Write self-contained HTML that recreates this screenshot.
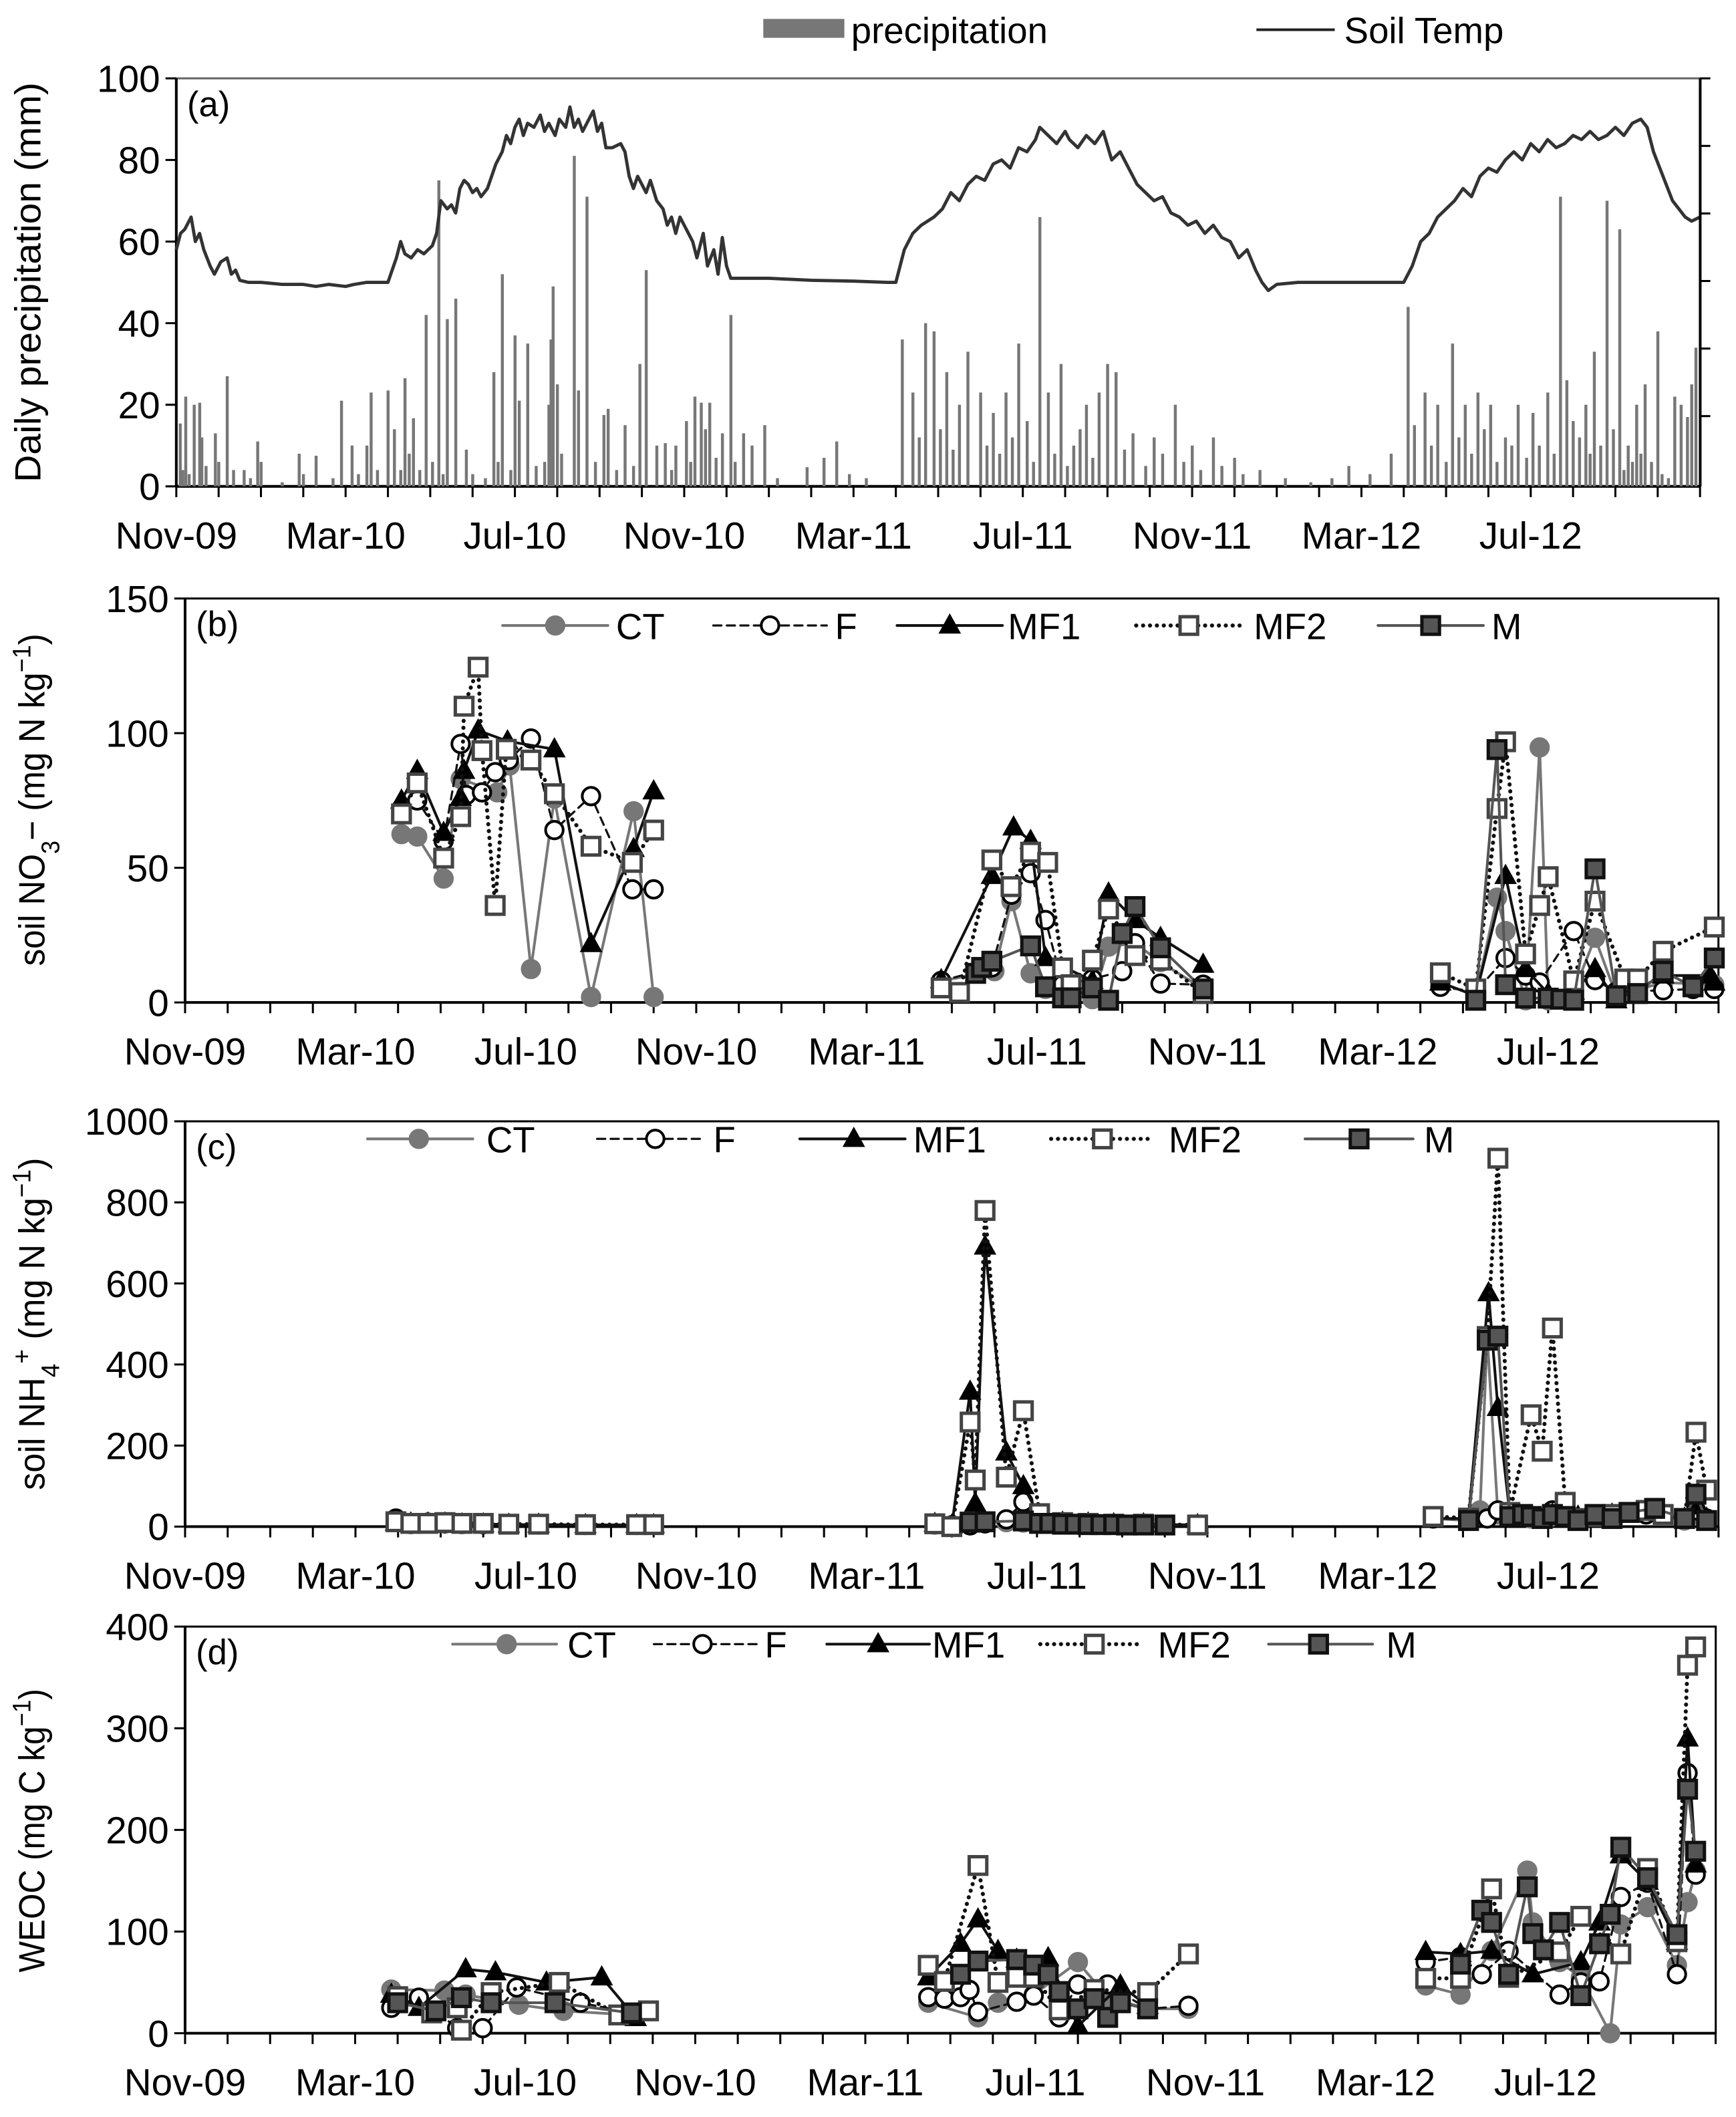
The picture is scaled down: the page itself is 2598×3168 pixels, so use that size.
<!DOCTYPE html>
<html><head><meta charset="utf-8"><style>
html,body{margin:0;padding:0;background:#fff;}
svg{display:block;font-family:"Liberation Sans",Arial,sans-serif;}
</style></head><body>
<svg id="chart" xmlns="http://www.w3.org/2000/svg" width="2598" height="3168" viewBox="0 0 1285 1567" preserveAspectRatio="none">
<g id="legend-top">
<rect x="565" y="14" width="60" height="14" fill="#777"/>
<text x="630" y="32" font-size="27">precipitation</text>
<line x1="930" y1="22" x2="988" y2="22" stroke="#222" stroke-width="2"/>
<text x="995" y="32" font-size="27">Soil Temp</text>
</g>
</svg>
<script>
// ---------- Panel (a) data ----------
const precipMonth=[0.09,0.15,0.22,0.3,0.42,0.55,0.6,0.7,0.92,1.0,1.2,1.35,1.6,1.75,1.92,2.0,2.5,2.9,3.0,3.3,3.7,3.9,4.15,4.3,4.5,4.6,4.75,5.0,5.15,5.3,5.4,5.5,5.6,5.75,5.9,6.05,6.2,6.3,6.4,6.6,6.85,7.0,7.3,7.5,7.6,7.7,7.9,8.0,8.1,8.3,8.5,8.7,8.8,8.85,8.9,9.0,9.1,9.4,9.5,9.7,9.9,10.1,10.2,10.4,10.6,10.8,10.95,11.1,11.35,11.55,11.7,11.8,12.05,12.15,12.25,12.4,12.5,12.6,12.75,12.9,13.1,13.2,13.4,13.6,13.9,14.2,14.9,15.3,15.6,15.9,16.3,
17.15,17.4,17.55,17.7,17.9,18.05,18.2,18.35,18.5,18.7,19.0,19.15,19.3,19.45,19.6,19.75,19.9,20.1,20.25,20.4,20.6,20.75,20.9,21.05,21.2,21.35,21.5,21.65,21.8,22.0,22.2,22.4,22.6,22.9,23.1,23.3,23.6,23.8,24.0,24.2,24.5,24.7,25.0,25.2,25.6,26.2,26.8,27.3,27.7,28.2,28.7,
29.1,29.25,29.5,29.65,29.8,30.0,30.15,30.3,30.45,30.6,30.75,30.9,31.05,31.2,31.4,31.55,31.7,31.9,32.05,32.2,32.4,32.55,32.7,32.85,33.0,33.15,33.3,33.4,33.5,33.65,33.8,33.95,34.1,34.2,34.3,34.4,34.5,34.6,34.7,34.85,35.0,35.1,35.25,35.4,35.55,35.7,35.8,35.9];
const precipMM=[15.4,4,22,3,20,20.5,12,5,13,6,27,4,4,2,11,6,1,8,3,7.5,2,21,10,3,10,23,4,23.5,14,4,26.5,8,16.7,4,42,6,75,3,41,46,9,3,2,28,6,52,4,37,21,35,5,6,20,36,49,25,8,81,23.5,71,6,17.5,19,4,15,5,30,53,10,10.6,4,10,16,6,22,20.5,14,20.5,7,13,42,6,13,10,15,2,4.7,7,11,3,2,
36,23,12,40,38,14,28,9,20,33,23,10,18,8,23,12,35,16,6,66,23,8,30,5,10,14,20,7,23,30,28,9,13,5,12,8,20,6,10,4,12,5,7,3,4,2,1,2,5,3,8,
44,15,23,10,20,6,35,12,20,8,23,14,20,6,12,10,20,7,18,10,23,8,71,26,16,12,20,8,33,10,70,14,63,4,10,6,20,8,25,6,38,3,2,22,20,17,25,34];
const tempMonth=[0,0.1,0.2,0.35,0.45,0.55,0.65,0.8,0.9,1.05,1.2,1.3,1.4,1.5,1.7,2,2.5,3,3.3,3.6,4,4.2,4.5,4.9,5.0,5.1,5.2,5.3,5.4,5.55,5.7,5.85,5.95,6.05,6.15,6.25,6.4,6.5,6.6,6.7,6.8,6.9,7.0,7.1,7.2,7.35,7.45,7.55,7.7,7.8,7.9,8.0,8.1,8.2,8.3,8.45,8.6,8.7,8.8,8.95,9.05,9.2,9.3,9.4,9.5,9.6,9.7,9.85,9.95,10.05,10.15,10.3,10.5,10.6,10.7,10.8,10.9,11.0,11.1,11.2,11.35,11.5,11.6,11.7,11.8,11.9,12.0,12.1,12.2,12.3,12.45,12.55,12.7,12.8,12.9,13.0,13.1,13.2,13.4,14,15,16,16.8,
17.0,17.2,17.4,17.6,17.9,18.1,18.3,18.5,18.7,18.9,19.1,19.3,19.5,19.7,19.9,20.1,20.3,20.4,20.6,20.8,21.0,21.1,21.3,21.5,21.7,21.9,22.1,22.3,22.5,22.7,22.9,23.1,23.3,23.5,23.7,23.9,24.1,24.3,24.5,24.7,24.9,25.1,25.3,25.5,25.65,25.8,26.0,26.5,27.5,28.5,29.0,29.2,29.4,29.6,29.8,30.0,30.2,30.4,30.6,30.8,31.0,31.2,31.4,31.6,31.8,32.0,32.2,32.4,32.6,32.8,33.0,33.2,33.4,33.6,33.8,34.0,34.2,34.4,34.6,34.75,34.9,35.05,35.2,35.35,35.5,35.65,35.8,36];
const tempVal=[58,62,63,66,60,62,58,54,52,55,56,52,53,50.5,50,50,49.5,49.5,49,49.5,49,49.5,50,50,50,53,56,60,57,56,58,57,58,59,62,70,68,69,67,73,75,74,72,73,71,73,76,79,82,86,84,88,90,86,89,88,91,87,89,86,90,88,93,88,90,87,89,92,87,89,83,83,84,82,76,73,76,74,72,75,70,68,64,66,62,66,64,62,60,56,62,54,58,52,61,54,51,51,51,51,50.5,50.3,50,
50,58,62,64,66,68,72,70,74,76,75,79,80,78,83,82,85,88,86,84,87,85,83,86,84,87,80,82,78,74,72,70,71,67,66,64,65,62,64,61,60,56,58,53,50,48,49.5,50,50,50,50,54,60,62,66,68,70,73,71,76,78,77,80,82,80,84,82,85,83,84,86,85,87,85,86,88,86,89,90,88,82,78,74,70,68,66,65,66];

// ---------- Panel (b) NO3 data [month, value] ----------
const no3CT=[[5.08,62.5],[5.45,61.6],[6.07,46],[6.47,83],[7.33,78],[7.62,88],[8.12,12.4],[8.67,75.7],[9.53,2],[10.53,71],[11.0,2],
[17.75,8],[19.0,11.6],[19.4,37.6],[19.85,10.8],[20.2,5],[21.3,1.2],[21.68,20.7],[22.3,22],[22.9,15],[23.9,5],
[29.47,7.4],[30.3,2.5],[30.8,38.9],[31.0,26.5],[31.47,0.8],[31.8,94.7],[32.0,0.8],[32.6,4],[33.1,24],[33.6,2.5],[34.7,7.4],[35.9,6.6]];
const no3F=[[5.08,72],[5.45,75],[6.07,60],[6.47,96],[6.6,77],[6.97,78],[7.28,85.5],[7.6,90],[8.12,98],[8.67,64],[9.53,76.6],[10.5,42],[11.0,42],
[17.75,8],[18.94,13],[19.4,40],[19.85,48],[20.2,30.6],[20.6,6.6],[21.3,8.7],[22.0,11.6],[22.3,22],[22.9,7],[23.9,6.6],
[29.47,5.8],[30.3,4],[31.0,16.5],[31.47,10],[31.8,7.4],[32.6,26.5],[33.1,8.3],[33.6,4],[34.7,4.5],[35.4,5],[35.9,5]];
const no3MF1=[[5.08,75],[5.45,86],[6.07,63],[6.47,76],[6.55,86],[6.88,101],[7.57,97],[8.67,94],[9.53,21.7],[10.53,57],[11.0,78.4],
[17.75,8.3],[18.94,47],[19.45,65],[19.85,60],[20.2,16.5],[21.3,8],[21.68,40.5],[22.3,30.6],[22.9,24],[23.9,14],
[29.47,7.4],[30.3,2.5],[31.0,47],[31.47,12.4],[32.0,3.3],[32.6,4],[33.1,12.4],[33.6,0.8],[34.7,10],[35.8,10],[35.9,7.4]];
const no3MF2=[[5.08,70],[5.45,81.5],[6.07,53.6],[6.47,69],[6.55,110],[6.88,124.5],[6.97,93.5],[7.28,36],[7.54,94],[8.12,90],[8.67,77.5],[9.53,58],[10.5,52],[11.0,64],
[17.75,5.4],[18.18,3.7],[18.94,52.9],[19.39,43],[19.85,55.8],[20.25,52],[20.6,12.8],[20.8,6.6],[21.3,15.7],[21.68,34.7],[22.3,17.4],[22.9,15.7],[23.9,3.3],
[29.47,11],[30.3,5],[30.8,72],[31.0,96.8],[31.47,18],[31.8,36],[32.0,46.7],[32.6,8],[33.1,37.6],[33.8,8.7],[34.1,8.7],[34.7,19],[35.9,28]];
const no3M=[[18.56,10.8],[18.7,13],[18.94,15.3],[19.85,21],[20.2,5.8],[20.6,1.7],[20.8,1.7],[21.3,5.4],[21.68,0.8],[22.0,25.6],[22.3,35.6],[22.9,20.3],[23.9,5],
[30.3,0.8],[30.8,93.9],[31.0,6.6],[31.47,1.6],[32.0,1.6],[32.3,1.2],[32.6,0.8],[33.1,49.6],[33.6,2.5],[34.1,3.3],[34.7,11.6],[35.4,5.8],[35.9,16.5]];

// ---------- Panel (c) NH4 data ----------
const nh4CT=[[4.95,12],[5.3,6],[5.7,8],[6.1,8],[6.5,6],[7.0,6],[7.6,5],[8.3,5],[9.4,4],[10.6,4],[11.0,4],
[17.6,5],[18.0,3],[18.43,8],[18.78,10],[19.28,11],[19.68,10],[20.06,8],[20.6,6],[21.2,5],[21.8,5],[22.5,5],[23.77,4],
[29.3,20],[30.13,15],[30.4,40],[30.57,470],[30.82,30],[31.1,25],[31.6,20],[32.1,25],[32.7,20],[33.5,30],[34.3,35],[35.2,15],[35.47,30],[35.72,15]];
const nh4F=[[4.95,20],[5.3,8],[5.7,10],[6.1,8],[6.5,8],[7.0,6],[7.6,6],[8.3,5],[9.4,5],[10.6,5],[11.0,5],
[17.6,6],[18.0,3],[18.43,3],[18.78,8],[19.28,18],[19.68,61],[20.06,18],[20.6,8],[21.2,6],[21.8,5],[22.5,5],[23.77,4],
[29.3,20],[30.13,18],[30.57,20],[30.82,40],[31.1,30],[31.6,25],[32.1,40],[32.4,61],[32.7,20],[33.5,25],[34.3,30],[35.2,20],[35.47,40],[35.72,20]];
const nh4MF1=[[4.95,10],[5.3,8],[5.7,8],[6.1,8],[6.5,6],[7.0,6],[7.6,5],[8.3,5],[9.4,4],[10.6,4],[11.0,4],
[17.6,7],[18.0,3],[18.43,333],[18.55,57],[18.78,691],[19.28,183],[19.68,100],[20.06,25],[20.6,10],[21.2,8],[21.8,6],[22.5,6],[23.77,4],
[29.3,20],[30.13,20],[30.6,576],[30.82,293],[31.1,30],[31.6,25],[32.1,30],[32.7,25],[33.5,30],[34.3,40],[35.2,20],[35.47,50],[35.72,20]];
const nh4MF2=[[4.95,12],[5.3,8],[5.7,8],[6.1,10],[6.5,8],[7.0,8],[7.6,6],[8.3,6],[9.4,5],[10.6,5],[11.0,5],
[17.6,7],[18.0,0],[18.43,258],[18.55,115],[18.78,780],[19.28,122],[19.68,286],[20.06,32],[20.6,10],[21.2,8],[21.8,6],[22.5,6],[23.77,4],
[29.3,25],[30.13,21],[30.57,469],[30.82,909],[31.1,35],[31.6,276],[31.86,186],[32.1,490],[32.4,60],[32.7,20],[33.1,25],[33.5,30],[33.9,35],[34.3,40],[34.7,30],[35.2,20],[35.47,233],[35.72,90]];
const nh4M=[[18.43,11],[18.78,12],[19.68,14],[20.06,8],[20.3,8],[20.6,6],[20.9,6],[21.2,5],[21.5,5],[21.8,5],[22.1,4],[22.5,4],[23.0,4],
[30.13,15],[30.57,460],[30.82,470],[31.1,25],[31.4,30],[31.6,25],[31.86,20],[32.1,30],[32.4,25],[32.7,15],[33.1,30],[33.5,20],[33.9,35],[34.5,45],[35.2,20],[35.47,80],[35.72,15]];

// ---------- Panel (d) WEOC data ----------
const weocCT=[[4.85,43],[6.1,42],[6.6,38],[7.85,28],[8.9,22],[10.5,18],
[17.48,30],[18.65,15.6],[19.12,30],[19.96,38],[21.0,70],[21.7,35.5],[22.64,24],[23.6,24],
[29.18,47],[30.0,38],[30.73,81],[31.57,160],[31.7,109],[32.33,70],[32.83,55],[33.52,0],[33.77,107],[34.4,124],[35.09,67],[35.34,129],[35.53,160]];
const weocF=[[4.85,25],[5.5,35],[6.4,5],[7.0,5],[7.8,45],[9.3,30],[10.5,20],
[17.48,35.5],[17.86,34],[18.24,35.5],[18.45,42.6],[18.65,21],[19.56,31],[19.96,37],[20.56,15.6],[21.0,48],[21.7,48],[22.64,24],[23.6,27],
[29.18,70],[30.0,75],[30.5,58],[31.13,81],[32.33,38],[32.83,50],[33.27,51],[33.77,134],[34.4,148],[35.09,58],[35.34,256],[35.53,156]];
const weocMF1=[[4.85,38],[5.5,25],[6.6,63],[7.3,60],[8.5,50],[9.8,55],[10.6,15],
[17.48,55],[18.24,88],[18.65,112],[19.12,81],[19.56,72.5],[20.3,74],[21.0,7],[22.0,47],[22.64,27],
[29.18,80],[30.0,78],[30.73,81],[31.7,58],[32.83,70],[33.27,109],[33.77,175],[34.4,149],[35.09,90],[35.34,290],[35.53,166]];
const weocMF2=[[5.0,36],[5.8,20],[6.4,25],[6.5,3],[7.2,40],[8.8,50],[10.2,18],[10.9,22],
[17.48,66.8],[17.86,51],[18.65,165],[19.12,50],[19.56,55],[19.96,55],[20.56,23],[21.38,43],[22.64,40],[23.6,78],
[29.18,54],[30.0,54],[30.73,142],[31.13,55],[32.33,80],[32.83,115],[33.77,78],[34.4,162],[35.09,90],[35.34,362],[35.53,380]];
const weocM=[[5.0,30],[5.9,22],[6.5,35],[7.2,30],[8.7,30],[10.5,20],
[18.24,58],[18.65,71],[19.56,72.5],[19.96,67],[20.3,58],[20.56,41],[21.0,24],[21.38,34],[21.7,15.6],[22.0,30],[22.64,24],
[30.0,68],[30.5,121],[30.73,109],[31.13,58],[31.57,144],[31.7,98],[31.95,82],[32.33,109],[32.83,37],[33.27,88],[33.52,117],[33.77,183],[34.4,153],[35.09,97],[35.34,240],[35.53,179]];

const xLabels=["Nov-09","Mar-10","Jul-10","Nov-10","Mar-11","Jul-11","Nov-11","Mar-12","Jul-12"];
const yTicksA=[0,20,40,60,80,100];
const yTicksB=[0,50,100,150];
const yTicksC=[0,200,400,600,800,1000];
const yTicksD=[0,100,200,300,400];

const NS="http://www.w3.org/2000/svg";
const svg=document.getElementById('chart');
function mk(tag,attrs,parent){const e=document.createElementNS(NS,tag);for(const k in attrs)e.setAttribute(k,attrs[k]);(parent||svg).appendChild(e);return e;}

function makeAxes(p){
  const g=mk('g',{});
  
  
  const fr=mk('rect',{x:p.x0,y:p.yTop,width:p.x1-p.x0,height:p.yBot-p.yTop,fill:'none',stroke:p.frame,'stroke-width':1.5},g);
  
  
  const xa=mk('line',{x1:p.x0,y1:p.yBot,x2:p.x1,y2:p.yBot,stroke:'#000','stroke-width':2},g);
  
  
  const ya=mk('line',{x1:p.x0,y1:p.yTop,x2:p.x0,y2:p.yBot,stroke:'#000','stroke-width':2},g);
  
  
  for(let m=0;m<=36;m++){
    const x=p.x0+m*p.mw;
    mk('line',{x1:x,y1:p.yBot,x2:x,y2:p.yBot+8,stroke:'#000','stroke-width':1.5},g);
  }
  xLabels.forEach((l,i)=>{
    const t=mk('text',{x:p.x0+i*4*p.mw,y:p.yBot+46,'font-size':28,'text-anchor':'middle'},g);
    t.textContent=l;
    
    
  });
  p.yt.forEach(v=>{
    const y=p.yBot-(v/p.ymax)*(p.yBot-p.yTop);
    mk('line',{x1:p.x0-8,y1:y,x2:p.x0,y2:y,stroke:'#000','stroke-width':1.5},g);
    const t=mk('text',{x:p.x0-12,y:y+10,'font-size':28,'text-anchor':'end'},g);
    t.textContent=v;
    
    
  });
  const pl=mk('text',{x:p.x0+8,y:p.yTop+28,'font-size':26},g);
  pl.textContent=p.letter;
  
  
  return g;
}
function ytitle(x,yc,len,html,name){
  const t=mk('text',{x:0,y:0,'font-size':27,'text-anchor':'middle',transform:`translate(${x},${yc}) rotate(-90)`,textLength:len,lengthAdjust:'spacingAndGlyphs'});
  t.innerHTML=html;
  
  
}

// Panel a
const pa={name:'panel-a',x0:130.5,x1:1258.5,mw:31.33,yTop:58,yBot:360,ymax:100,yt:yTicksA,letter:'(a)',frame:'#666'};
makeAxes(pa);
const ax=m=>pa.x0+m*pa.mw, ay=v=>pa.yBot-v/100*(pa.yBot-pa.yTop);
const bars=mk('g',{});


precipMonth.forEach((m,i)=>{
  const r=mk('rect',{x:ax(m)-1,y:ay(precipMM[i]),width:2.2,height:pa.yBot-ay(precipMM[i]),fill:'#777'},bars);
  
  
});
const tl=mk('polyline',{points:tempMonth.map((m,i)=>ax(m)+','+ay(tempVal[i])).join(' '),fill:'none',stroke:'#333','stroke-width':2.4,'stroke-linejoin':'round'});


const ra=mk('line',{x1:1258.5,y1:58,x2:1258.5,y2:360,stroke:'#000','stroke-width':2});


for(let i=0;i<6;i++){mk('line',{x1:1258.5,y1:58+i*50,x2:1266,y2:58+i*50,stroke:'#000','stroke-width':1.5});}
ytitle(30,209,296,'Daily precipitation (mm)','y-axis-title-a');

const styles={
 CT:{line:'#777',w:2,dash:null,marker:'circle',fill:'#777',stroke:'#777'},
 F:{line:'#111',w:1.6,dash:'6,4',marker:'circle',fill:'#fff',stroke:'#000'},
 MF1:{line:'#111',w:2,dash:null,marker:'tri',fill:'#000',stroke:'#000'},
 MF2:{line:'#111',w:3,dash:'0.1,5',marker:'sq',fill:'#fff',stroke:'#444'},
 M:{line:'#555',w:2,dash:null,marker:'sq',fill:'#555',stroke:'#111'}
};
function marker(g,type,x,y,s,name){
  let e;
  if(type==='circle') e=mk('circle',{cx:x,cy:y,r:6.5,fill:s.fill,stroke:s.stroke,'stroke-width':2},g);
  else if(type==='tri') e=mk('polygon',{points:`${x},${y-8} ${x-7.5},${y+5.5} ${x+7.5},${y+5.5}`,fill:s.fill,stroke:s.stroke,'stroke-width':1},g);
  else e=mk('rect',{x:x-6.5,y:y-6.5,width:13,height:13,fill:s.fill,stroke:s.stroke,'stroke-width':2.5},g);
  
  
}
function drawSeries(p,key,data){
  const s=styles[key];
  const X=m=>p.x0+m*p.mw, Y=v=>p.yBot-v/p.ymax*(p.yBot-p.yTop);
  const g=mk('g',{});
  
  
  let seg=[];const segs=[];
  data.forEach((d,i)=>{if(i>0&&d[0]-data[i-1][0]>3){segs.push(seg);seg=[];}seg.push(d);});
  segs.push(seg);
  segs.forEach(sg=>{
    const a={points:sg.map(d=>X(d[0])+','+Y(d[1])).join(' '),fill:'none',stroke:s.line,'stroke-width':s.w,'stroke-linecap':'round'};
    if(s.dash)a['stroke-dasharray']=s.dash;
    const l=mk('polyline',a,g);
    
    
  });
  data.forEach(d=>marker(g,s.marker,X(d[0]),Y(d[1]),s,'point-'+key.toLowerCase()));
}
function legend(y,items,name){
  const g=mk('g',{});
  
  
  items.forEach(it=>{
    const s=styles[it.k];
    const a={x1:it.l0,y1:y,x2:it.l1,y2:y,stroke:s.line,'stroke-width':s.w,'stroke-linecap':'round'};
    if(s.dash)a['stroke-dasharray']=s.dash;
    mk('line',a,g);
    marker(g,s.marker,it.mx,y,s,'legend-marker-'+it.k.toLowerCase());
    const t=mk('text',{x:it.tx,y:y+10,'font-size':27},g);
    t.textContent=it.k;
    
    
  });
}

// Panel b
const pb={name:'panel-b',x0:137,x1:1272,mw:31.53,yTop:443,yBot:742,ymax:150,yt:yTicksB,letter:'(b)',frame:'#000'};
makeAxes(pb);
drawSeries(pb,'CT',no3CT);drawSeries(pb,'F',no3F);drawSeries(pb,'MF1',no3MF1);drawSeries(pb,'MF2',no3MF2);drawSeries(pb,'M',no3M);
legend(463,[{k:'CT',l0:372,l1:450,mx:411,tx:456},{k:'F',l0:528,l1:612,mx:570,tx:618},{k:'MF1',l0:664,l1:742,mx:703,tx:746},{k:'MF2',l0:841,l1:919,mx:880,tx:928},{k:'M',l0:1020,l1:1098,mx:1059,tx:1104}],'legend-b');
ytitle(33,592,246,'soil NO<tspan baseline-shift="sub" font-size="19">3</tspan><tspan>\u2212 (mg N kg</tspan><tspan baseline-shift="super" font-size="19">\u22121</tspan>)','y-axis-title-b');

// Panel c
const pc={name:'panel-c',x0:137,x1:1272,mw:31.53,yTop:830,yBot:1130,ymax:1000,yt:yTicksC,letter:'(c)',frame:'#000'};
makeAxes(pc);
drawSeries(pc,'CT',nh4CT);drawSeries(pc,'F',nh4F);drawSeries(pc,'MF1',nh4MF1);drawSeries(pc,'MF2',nh4MF2);drawSeries(pc,'M',nh4M);
legend(843,[{k:'CT',l0:272,l1:350,mx:310,tx:360},{k:'F',l0:442,l1:522,mx:485,tx:528},{k:'MF1',l0:592,l1:670,mx:632,tx:676},{k:'MF2',l0:778,l1:853,mx:816,tx:865},{k:'M',l0:966,l1:1046,mx:1006,tx:1054}],'legend-c');
ytitle(33,980,246,'soil NH<tspan baseline-shift="sub" font-size="19">4</tspan><tspan baseline-shift="super" font-size="19">+</tspan><tspan> (mg N kg</tspan><tspan baseline-shift="super" font-size="19">\u22121</tspan>)','y-axis-title-c');

// Panel d
const pd={name:'panel-d',x0:137,x1:1270,mw:31.47,yTop:1204,yBot:1505,ymax:400,yt:yTicksD,letter:'(d)',frame:'#000'};
makeAxes(pd);
drawSeries(pd,'CT',weocCT);drawSeries(pd,'F',weocF);drawSeries(pd,'MF1',weocMF1);drawSeries(pd,'MF2',weocMF2);drawSeries(pd,'M',weocM);
legend(1217,[{k:'CT',l0:335,l1:412,mx:375,tx:420},{k:'F',l0:484,l1:562,mx:520,tx:566},{k:'MF1',l0:612,l1:688,mx:650,tx:690},{k:'MF2',l0:770,l1:845,mx:810,tx:857},{k:'M',l0:939,l1:1016,mx:976,tx:1026}],'legend-d');
ytitle(33,1355,210,'WEOC (mg C kg<tspan baseline-shift="super" font-size="19">\u22121</tspan>)','y-axis-title-d');
</script>
</body></html>
